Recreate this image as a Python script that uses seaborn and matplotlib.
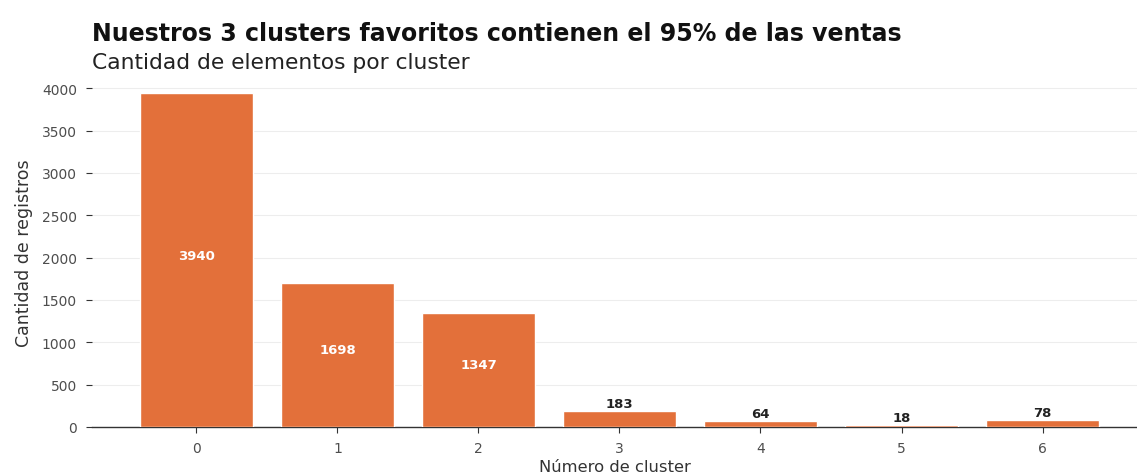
import matplotlib
matplotlib.use("Agg")
import matplotlib.pyplot as plt
import seaborn as sns
import pandas as pd

clusters = ["0", "1", "2", "3", "4", "5", "6"]
counts = [3940, 1698, 1347, 183, 64, 18, 78]
title = "Nuestros 3 clusters favoritos contienen el 95% de las ventas"
subtitle = "Cantidad de elementos por cluster"
xlabel = "Número de cluster"
ylabel = "Cantidad de registros"

sns.set_theme(style="white")
plt.rcParams['font.family'] = ['DejaVu Sans']

df = pd.DataFrame({"cluster": clusters, "n": counts})

fig = plt.figure(figsize=(11.37, 4.77), dpi=100)
ax = fig.add_axes([0.081, 0.103, 0.919, 0.734])

sns.barplot(data=df, x="cluster", y="n", order=clusters, color="#E3703A",
            saturation=1, width=0.8, ax=ax, zorder=3)

ax.set_xlim(-0.74, 6.67)
ax.set_ylim(0, 4137)
ax.set_yticks([0, 500, 1000, 1500, 2000, 2500, 3000, 3500, 4000])
ax.yaxis.grid(True, color="#EDEDED", linewidth=0.8, zorder=0)
ax.xaxis.grid(False)
for s in ["top", "right", "left"]:
    ax.spines[s].set_visible(False)
ax.spines["bottom"].set_color("#333333")
ax.spines["bottom"].set_linewidth(1.0)
ax.tick_params(axis="both", which="both", length=4, width=0.8, color="#333333",
               labelsize=10, labelcolor="#4D4D4D", left=True, bottom=True)
ax.tick_params(axis="y", pad=7)
ax.tick_params(axis="x", pad=6)
ax.set_xlabel(xlabel, fontsize=11.8, color="#333333", labelpad=3)
ax.set_ylabel(ylabel, fontsize=12.5, color="#333333", labelpad=6)

for i, v in enumerate(counts):
    if v > 1000:
        ax.text(i, v / 2 + 60, str(v), ha="center", va="center", color="white",
                fontsize=9.5, fontweight="bold", zorder=5)
    else:
        ax.text(i, v + 20, str(v), ha="center", va="bottom", color="#222222",
                fontsize=9.5, fontweight="bold", zorder=5)

fig.text(0.081, 0.928, title, fontsize=17, fontweight="bold", color="#111111",
         ha="left", va="center")
fig.text(0.081, 0.867, subtitle, fontsize=15.7, color="#222222", ha="left", va="center")

fig.savefig("out.png", dpi=100)
